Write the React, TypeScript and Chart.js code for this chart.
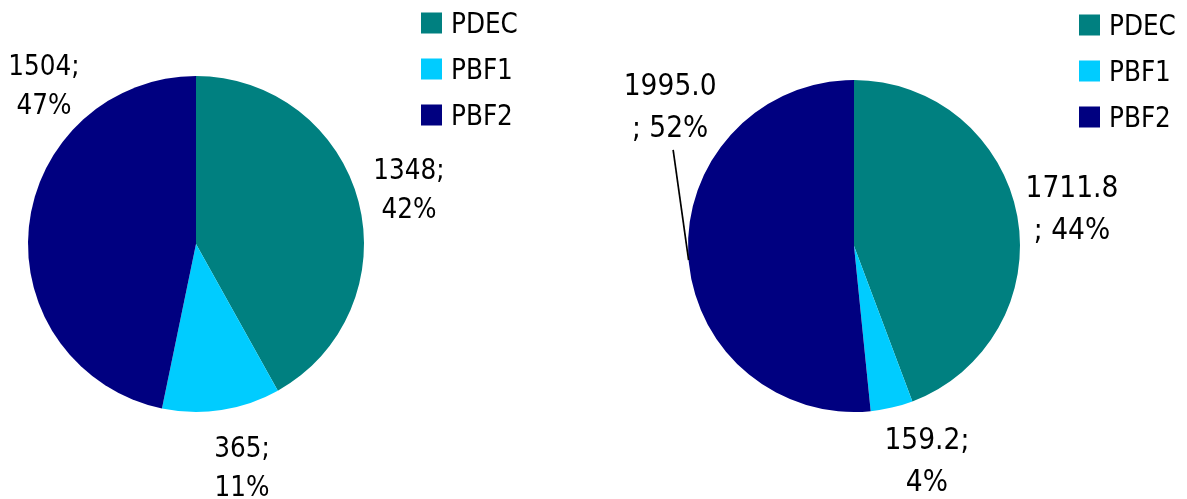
import React, { useEffect, useRef } from "react";
import { Chart, registerables } from "chart.js";

Chart.register(...registerables);

const FONT = "'DejaVu Sans Condensed', 'DejaVu Sans', sans-serif";

const categories = ["PDEC", "PBF1", "PBF2"];
const sliceColors = ["#008080", "#00CCFF", "#000080"];

const leftValues = [1348, 365, 1504];
const leftLabelLines = [["1348;", "42%"], ["365;", "11%"], ["1504;", "47%"]];

const rightValues = [1711.8, 159.2, 1995.0];
const rightLabelLines = [["1711.8", "; 44%"], ["159.2;", "4%"], ["1995.0", "; 52%"]];

// label placement: angle clockwise from 12 o'clock (deg), distance in radii
const leftPlacement = [
  { angle: 75.4, dist: 1.31 },
  { angle: 168.3, dist: 1.35 },
  { angle: 316.3, dist: 1.31 },
];
const rightPlacement = [
  { angle: 79.9, dist: 1.334 },
  { angle: 161.1, dist: 1.356 },
  { angle: 307.5, dist: 1.396, leader: { from: [298, 1.234], to: [265.1, 1.0] } },
];

const labelPlugin = {
  id: "pieLabels",
  afterDatasetsDraw(chart: any, _args: any, opts: any) {
    const meta = chart.getDatasetMeta(0);
    const arc0 = meta.data[0];
    if (!arc0) return;
    const cx = arc0.x;
    const cy = arc0.y;
    const R = arc0.outerRadius;
    const ctx = chart.ctx;
    const pt = (angle: number, dist: number) => {
      const a = (angle * Math.PI) / 180 - Math.PI / 2;
      return [cx + Math.cos(a) * dist * R, cy + Math.sin(a) * dist * R];
    };
    ctx.save();
    ctx.fillStyle = "#000";
    ctx.font = `${opts.fontSize}px ${FONT}`;
    ctx.textAlign = "center";
    ctx.textBaseline = "alphabetic";
    opts.lines.forEach((lines: string[], i: number) => {
      const p = opts.placement[i];
      const [x, y] = pt(p.angle, p.dist);
      lines.forEach((t, j) => {
        const ly = y + (j - (lines.length - 1) / 2) * opts.lineHeight + 0.364 * opts.fontSize;
        ctx.fillText(t, x, ly);
      });
      if (p.leader) {
        const [x1, y1] = pt(p.leader.from[0], p.leader.from[1]);
        const [x2, y2] = pt(p.leader.to[0], p.leader.to[1]);
        ctx.strokeStyle = "#000";
        ctx.lineWidth = 1.7;
        ctx.beginPath();
        ctx.moveTo(x1, y1);
        ctx.lineTo(x2, y2);
        ctx.stroke();
      }
    });
    // legend
    const labels = chart.data.labels as string[];
    const colors = chart.data.datasets[0].backgroundColor as string[];
    const lx = cx + opts.legendDx;
    const ly0 = cy + opts.legendDy;
    ctx.textAlign = "left";
    ctx.font = `${opts.legendFontSize}px ${FONT}`;
    labels.forEach((lab, i) => {
      const rowY = ly0 + i * opts.legendGap;
      ctx.fillStyle = colors[i];
      ctx.fillRect(lx, rowY - 10.5, 21, 21);
      ctx.fillStyle = "#000";
      ctx.fillText(lab, lx + 30, rowY + 0.364 * opts.legendFontSize);
    });
    ctx.restore();
  },
};

type PieProps = {
  values: number[];
  lines: string[][];
  placement: any[];
  width: number;
  left: number;
  padding: { left: number; right: number; top: number; bottom: number };
  lineHeight: number;
  fontSize: number;
};

function PieChart(props: PieProps) {
  const ref = useRef<HTMLCanvasElement | null>(null);
  useEffect(() => {
    if (!ref.current) return;
    const chart = new Chart(ref.current, {
      type: "pie",
      data: {
        labels: categories,
        datasets: [
          {
            data: props.values,
            backgroundColor: sliceColors,
            borderWidth: 0,
          },
        ],
      },
      options: {
        responsive: false,
        maintainAspectRatio: false,
        animation: false,
        layout: { padding: props.padding },
        plugins: {
          legend: { display: false },
          tooltip: { enabled: false },
          pieLabels: {
            lines: props.lines,
            placement: props.placement,
            fontSize: props.fontSize,
            lineHeight: props.lineHeight,
            legendDx: 225,
            legendDy: -221,
            legendGap: 46,
            legendFontSize: 27.5,
          },
        } as any,
      },
      plugins: [labelPlugin],
    });
    return () => chart.destroy();
  }, []);
  return (
    <canvas
      ref={ref}
      width={props.width}
      height={499}
      style={{ position: "absolute", left: props.left, top: 0, width: props.width, height: 499 }}
    />
  );
}

export default function App() {
  return (
    <div style={{ position: "absolute", left: 0, top: 0, width: 1187, height: 499, background: "#fff" }}>
      <PieChart
        values={leftValues}
        lines={leftLabelLines}
        placement={leftPlacement}
        width={594}
        left={0}
        padding={{ left: 28, right: 230, top: 76, bottom: 87 }}
        lineHeight={39}
        fontSize={27.5}
      />
      <PieChart
        values={rightValues}
        lines={rightLabelLines}
        placement={rightPlacement}
        width={593}
        left={594}
        padding={{ left: 94, right: 167, top: 80, bottom: 87 }}
        lineHeight={42}
        fontSize={29.5}
      />
    </div>
  );
}
